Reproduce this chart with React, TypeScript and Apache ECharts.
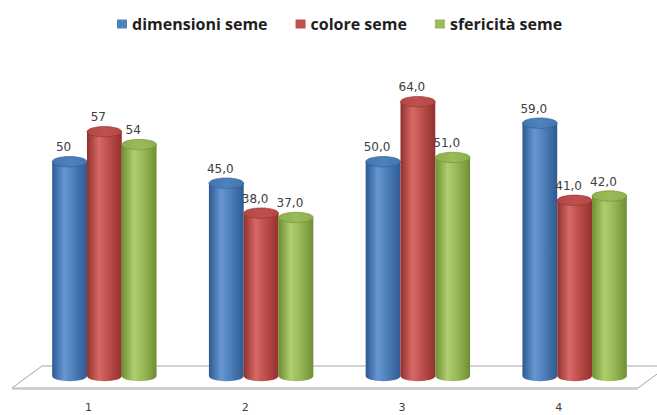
import React, { useEffect, useRef } from "react";
import * as echarts from "echarts";

// Category labels along the floor
const categories = ["1", "2", "3", "4"];

// Series values per category
const dimensioniSeme = [50, 45, 50, 59];
const coloreSeme = [57, 38, 64, 41];
const sfericitaSeme = [54, 37, 51, 42];

// Decimal places used by each category's data labels
const labelDecimals = [0, 1, 1, 1];

const seriesNames = ["dimensioni seme", "colore seme", "sfericità seme"];

// Base colour, dark edge, highlight, cap colour for each cylinder series
const palette = [
  { base: "#4F81BD", dark: "#2E5A90", light: "#6796D2", cap: "#4275B2" },
  { base: "#C0504D", dark: "#92312E", light: "#D66A66", cap: "#B44744" },
  { base: "#9BBB59", dark: "#6E8E33", light: "#AFCE6D", cap: "#8FAF4E" },
];

const GRID_LEFT = 26;
const GRID_RIGHT = 4;
const GRID_TOP = 76;
const GRID_BOTTOM = 39;
const Y_MAX = 70;

function formatLabel(v: number, cat: number): string {
  return v.toFixed(labelDecimals[cat]).replace(".", ",");
}

function makeCylinder(seriesIdx: number) {
  const c = palette[seriesIdx];
  const bodyGrad = () =>
    new echarts.graphic.LinearGradient(0, 0, 1, 0, [
      { offset: 0, color: c.dark },
      { offset: 0.35, color: c.light },
      { offset: 0.6, color: c.base },
      { offset: 1, color: c.dark },
    ]);
  return (params: any, api: any) => {
    const cat = api.value(0);
    const v = api.value(1);
    const base = api.coord([cat, 0]);
    const top = api.coord([cat, v]);
    const band = api.size([1, 0])[0];
    const w = band * 0.222;
    const rx = w / 2;
    const ry = rx * 0.3;
    const cx = base[0] + (seriesIdx - 1) * w;
    return {
      type: "group",
      children: [
        {
          type: "ellipse",
          shape: { cx, cy: base[1], rx, ry },
          style: { fill: bodyGrad() },
        },
        {
          type: "rect",
          shape: { x: cx - rx, y: top[1], width: rx * 2, height: base[1] - top[1] },
          style: { fill: bodyGrad() },
        },
        {
          type: "ellipse",
          shape: { cx, cy: top[1], rx, ry },
          style: {
            fill: new echarts.graphic.LinearGradient(0, 0, 1, 0, [
              { offset: 0, color: c.cap },
              { offset: 0.5, color: c.base },
              { offset: 1, color: c.cap },
            ]),
            stroke: c.dark,
            lineWidth: 0.6,
          },
        },
        {
          type: "text",
          z2: 10,
          style: {
            text: formatLabel(v, cat),
            x: cx - 6,
            y: top[1] - ry - 3,
            align: "center",
            verticalAlign: "bottom",
            fill: "#404040",
            font: "12px 'DejaVu Sans'",
          },
        },
      ],
    };
  };
}

export default function App() {
  const ref = useRef<HTMLDivElement>(null);

  useEffect(() => {
    if (!ref.current) return;
    document.body.style.margin = "0";
    const chart = echarts.init(ref.current, undefined, { renderer: "svg" });
    const H = 415;
    const floorBack = H - GRID_BOTTOM - 10;
    const floorFront = H - GRID_BOTTOM + 12;
    const seriesData = [dimensioniSeme, coloreSeme, sfericitaSeme];

    chart.setOption({
      animation: false,
      backgroundColor: "#ffffff",
      legend: {
        top: 11,
        left: 112,
        itemWidth: 10,
        itemHeight: 9,
        itemGap: 28,
        icon: "rect",
        textStyle: {
          fontFamily: "'Open Sans'",
          fontWeight: "bold",
          fontSize: 16,
          color: "#1f1f1f",
        },
        data: seriesNames,
      },
      grid: {
        left: GRID_LEFT,
        right: GRID_RIGHT,
        top: GRID_TOP,
        bottom: GRID_BOTTOM,
      },
      xAxis: {
        type: "category",
        data: categories,
        axisLine: { show: false },
        axisTick: { show: false },
        axisLabel: {
          margin: 26,
          padding: [0, 32, 0, 0],
          color: "#404040",
          fontFamily: "'DejaVu Sans'",
          fontSize: 11,
        },
      },
      yAxis: {
        type: "value",
        min: 0,
        max: Y_MAX,
        show: false,
        splitLine: { show: false },
      },
      graphic: [
        {
          type: "polygon",
          z: -1,
          shape: {
            points: [
              [12, floorFront],
              [638, floorFront],
              [668, floorBack],
              [42, floorBack],
            ],
          },
          style: { fill: "#ffffff", stroke: "#a6a6a6", lineWidth: 1 },
        },
        {
          type: "line",
          z: -1,
          shape: { x1: 12, y1: floorFront + 1, x2: 638, y2: floorFront + 1 },
          style: { stroke: "#c8c8c8", lineWidth: 1.5 },
        },
      ],
      series: seriesData.map((vals, i) => ({
        name: seriesNames[i],
        type: "custom",
        itemStyle: { color: palette[i].base },
        renderItem: makeCylinder(i),
        encode: { x: 0, y: 1 },
        data: vals.map((v, k) => [k, v]),
      })),
    });

    return () => chart.dispose();
  }, []);

  return <div ref={ref} style={{ width: 657, height: 415 }} />;
}
